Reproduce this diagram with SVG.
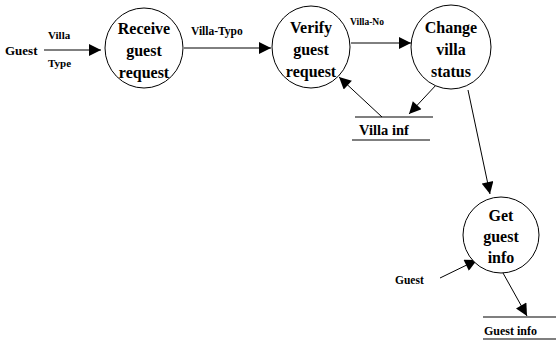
<svg xmlns="http://www.w3.org/2000/svg" width="556" height="343" viewBox="0 0 556 343">
  <style>
    .proc { fill: #fff; stroke: #000; stroke-width: 1; }
    .lbl { font-family: "Liberation Serif", "Times New Roman", serif; font-weight: bold; fill: #000; }
    .node { font-size: 16px; text-anchor: middle; }
    .flow { stroke: #000; stroke-width: 1; fill: none; marker-end: url(#head); }
    .store { stroke: #000; stroke-width: 1.2; }
  </style>
  <defs>
    <marker id="head" viewBox="0 0 10 10" refX="10" refY="5" markerWidth="14" markerHeight="12" markerUnits="userSpaceOnUse" orient="auto">
      <path d="M0,0 L10,5 L0,10 Z" fill="#000"/>
    </marker>
  </defs>
  <rect width="556" height="343" fill="#fff"/>

  <g id="connectors">
    <path class="flow" d="M44,50 L101,50"/>
    <path class="flow" d="M184,48 L271,48"/>
    <path class="flow" d="M351,43 L411,43"/>
    <path class="flow" d="M382,117 L339,77"/>
    <path class="flow" d="M437,84 L409,114"/>
    <path class="flow" d="M468,90 L490,194"/>
    <path class="flow" d="M440,278 L477,260"/>
    <path class="flow" d="M503,273 L527,316"/>
  </g>

  <g id="flow-labels" class="lbl">
    <text x="5" y="55" font-size="13">Guest</text>
    <text x="48" y="39" font-size="11">Villa</text>
    <text x="48" y="67" font-size="11">Type</text>
    <text x="191" y="35" font-size="11.5">Villa-Typo</text>
    <text x="350" y="25" font-size="9.5">Villa-No</text>
    <text x="395" y="284" font-size="11.5">Guest</text>
  </g>

  <g id="receive-guest-request">
    <ellipse class="proc" cx="144" cy="48" rx="39" ry="40"/>
    <text class="lbl node" x="144" y="34">Receive</text>
    <text class="lbl node" x="144" y="56">guest</text>
    <text class="lbl node" x="144" y="78">request</text>
  </g>

  <g id="verify-guest-request">
    <ellipse class="proc" cx="311" cy="47" rx="39" ry="41"/>
    <text class="lbl node" x="311" y="33">Verify</text>
    <text class="lbl node" x="311" y="55">guest</text>
    <text class="lbl node" x="311" y="77">request</text>
  </g>

  <g id="change-villa-status">
    <ellipse class="proc" cx="451" cy="47" rx="40" ry="42"/>
    <text class="lbl node" x="451" y="33">Change</text>
    <text class="lbl node" x="451" y="55">villa</text>
    <text class="lbl node" x="451" y="77">status</text>
  </g>

  <g id="get-guest-info">
    <ellipse class="proc" cx="501" cy="235" rx="38" ry="38"/>
    <text class="lbl node" x="501" y="221">Get</text>
    <text class="lbl node" x="501" y="242">guest</text>
    <text class="lbl node" x="501" y="263">info</text>
  </g>

  <g id="villa-inf">
    <line class="store" x1="355" y1="117" x2="433" y2="117"/>
    <text class="lbl" x="359" y="135" font-size="14.5">Villa inf</text>
    <line class="store" x1="352" y1="140" x2="430" y2="140"/>
  </g>

  <g id="guest-info">
    <line class="store" x1="483" y1="317" x2="556" y2="317"/>
    <text class="lbl" x="484" y="335" font-size="12">Guest info</text>
    <line class="store" x1="483" y1="339" x2="556" y2="339"/>
  </g>
</svg>
